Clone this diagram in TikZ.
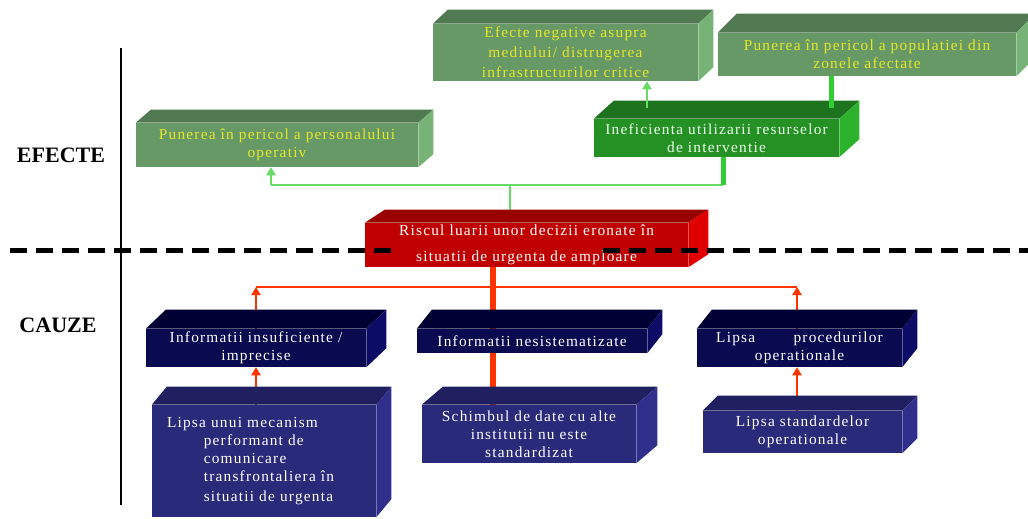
\documentclass[tikz,border=0pt]{standalone}
\usepackage{fontspec}
\setmainfont{Liberation Serif}
\newfontfamily\boxfont{Liberation Serif}[LetterSpace=8.0]
\usetikzlibrary{arrows.meta,calc}
\definecolor{grFront}{RGB}{102,153,102}
\definecolor{grTop}{RGB}{82,122,82}
\definecolor{grSide}{RGB}{119,179,119}
\definecolor{grText}{RGB}{230,230,40}
\definecolor{inFront}{RGB}{37,145,37}
\definecolor{inTop}{RGB}{30,115,30}
\definecolor{inSide}{RGB}{45,178,45}
\definecolor{rdFront}{RGB}{192,0,0}
\definecolor{rdTop}{RGB}{153,0,0}
\definecolor{rdSide}{RGB}{224,0,0}
\definecolor{nvFront}{RGB}{10,10,80}
\definecolor{nvTop}{RGB}{0,0,51}
\definecolor{nvSide}{RGB}{12,12,102}
\definecolor{blFront}{RGB}{42,42,122}
\definecolor{blTop}{RGB}{32,32,96}
\definecolor{blSide}{RGB}{48,48,140}
\definecolor{lineG}{RGB}{102,220,102}
\definecolor{lineGG}{RGB}{50,205,50}
\definecolor{lineR}{RGB}{255,51,0}
\tikzset{
  cube/.style={inner sep=0pt, align=center,
    font=\boxfont\fontsize{11.5}{13.5}\selectfont},
  boxsize/.style 2 args={minimum width={#1*0.75pt}, minimum height={#2*0.75pt}},
  effect/.style={cube, fill=grFront, text=grText},
  effdark/.style={cube, fill=inFront, text=white!92!green},
  risk/.style={cube, fill=rdFront, text=white},
  cause/.style={cube, fill=nvFront, text=white},
  subcause/.style={cube, fill=blFront, text=white},
  side label/.style={font=\bfseries\fontsize{16.5}{19}\selectfont},
  linkG/.style={lineG, line width=1.1pt},
  linkGG/.style={lineGG, line width=3.75pt},
  linkR/.style={lineR, line width=0.9pt},
  linkRR/.style={lineR, line width=4.5pt},
  tip/.style={-{Triangle[length=6pt,width=7pt]}}
}
% top and side faces of a box node
\newcommand{\cubefaces}[5]{%
  \fill[#4] (#1.north west) -- ++(#2,#3) -- ($(#1.north east)+(#2,#3)$) -- (#1.north east) -- cycle;
  \fill[#5] (#1.north east) -- ++(#2,#3) -- ($(#1.south east)+(#2,#3)$) -- (#1.south east) -- cycle;}

\begin{document}
\begin{tikzpicture}[x=0.75pt,y=-0.75pt]
  \path[use as bounding box,fill=white] (0,0) rectangle (1028,518);

  % side labels
  \draw[black,line width=0.8pt] (121,48) -- (121,505);
  \node[side label] (efecte) at (61,155) {EFECTE};
  \node[side label] (cauze) at (58,325) {CAUZE};

  % effects
  \node[effect, boxsize={265}{57}] (efmediu) at (565.5,52.5)
    {Efecte negative asupra\\[1pt]mediului/ distrugerea\\[2pt]infrastructurilor critice};
  \node[effect, boxsize={298}{43}] (efpop) at (867,54.5)
    {Punerea în pericol a populatiei din\\zonele afectate};
  \node[effect, boxsize={282}{44}] (efpers) at (277,145)
    {Punerea în pericol a personalului\\operativ};
  \node[effdark, boxsize={245}{38}] (inef) at (716.5,138)
    {Ineficienta utilizarii resurselor\\de interventie};
  \node[risk, boxsize={323}{44}] (risc) at (526.5,245)
    {Riscul luarii unor decizii eronate în\\[6pt]situatii de urgenta de amploare};

  % causes
  \node[cause, boxsize={220}{38}] (infins) at (256,348)
    {Informatii insuficiente /\\imprecise};
  \node[cause, boxsize={230}{24}] (infnes) at (532,341)
    {Informatii nesistematizate};
  \node[cause, boxsize={205}{38}] (lipsproc) at (799.5,348)
    {Lipsa\hspace{2.5em}procedurilor\\operationale};
  \node[subcause, boxsize={224}{112}, align=left, text width={194*0.75pt}, inner xsep={15*0.75pt}] (lipsmec) at (264,461)
    {Lipsa unui mecanism\\\hspace*{2.4em}performant de\\\hspace*{2.4em}comunicare\\\hspace*{2.4em}transfrontaliera în\\[2pt]\hspace*{2.4em}situatii de urgenta};
  \node[subcause, boxsize={214}{58}] (schimb) at (529,434)
    {Schimbul de date cu alte\\institutii nu este\\standardizat};
  \node[subcause, boxsize={199}{42}] (lipsstd) at (802.5,432)
    {Lipsa standardelor\\operationale};

  % junctions
  \coordinate (gJ) at (510,185);
  \coordinate (gL) at (271,185);
  \coordinate (gR) at (723,185);
  \coordinate (rT) at (493,287);
  \coordinate (rL) at (256,287);
  \coordinate (rR) at (797,287);

  % connectors behind the faces
  \draw[linkG] (gJ |- risc.north) -- (gJ);
  \draw[linkG] (gL) -- (gR);
  \draw[linkG,tip] (gL) -- (gL |- efpers.south);
  \draw[linkGG] (gR) -- (gR |- inef.south);
  \draw[linkR] (rL) -- (rR);
  \draw[linkR,tip] (infins.north -| rL) -- (rL);
  \draw[linkR,tip] (lipsproc.north -| rR) -- (rR);
  \draw[linkRR] (rT |- infnes.north) -- (rT |- risc.south);
  \draw[linkRR] (rT |- schimb.north) -- (rT |- infnes.south);
  \draw[linkR,tip] (lipsmec.north -| rL) -- (rL |- infins.south);
  \draw[linkR,tip] (lipsstd.north -| rR) -- (rR |- lipsproc.south);

  % faces
  \cubefaces{efmediu}{15}{-14}{grTop}{grSide}
  \cubefaces{efpop}{19}{-19}{grTop}{grSide}
  \cubefaces{efpers}{15}{-13}{grTop}{grSide}
  \cubefaces{inef}{20}{-18}{inTop}{inSide}
  \cubefaces{risc}{20}{-13}{rdTop}{rdSide}
  \cubefaces{infins}{20}{-19}{nvTop}{nvSide}
  \cubefaces{infnes}{15}{-19}{nvTop}{nvSide}
  \cubefaces{lipsproc}{15}{-19}{nvTop}{nvSide}
  \cubefaces{lipsmec}{15}{-18}{blTop}{blSide}
  \cubefaces{schimb}{21}{-18}{blTop}{blSide}
  \cubefaces{lipsstd}{15}{-15}{blTop}{blSide}

  % connectors from the top faces
  \coordinate (gM) at (647,108);
  \coordinate (gP) at (831,108);
  \draw[linkG,tip] (gM) -- (gM |- efmediu.south);
  \draw[linkGG] (gP) -- (gP |- efpop.south);

  % boundary between effects and causes
  \draw[black,line width=3.75pt,dash pattern=on 13pt off 6.5pt] (10,250) -- (395,250);
  \draw[black,line width=3.75pt,dash pattern=on 13pt off 6.5pt] (603,250) -- (1028,250);
\end{tikzpicture}
\end{document}
